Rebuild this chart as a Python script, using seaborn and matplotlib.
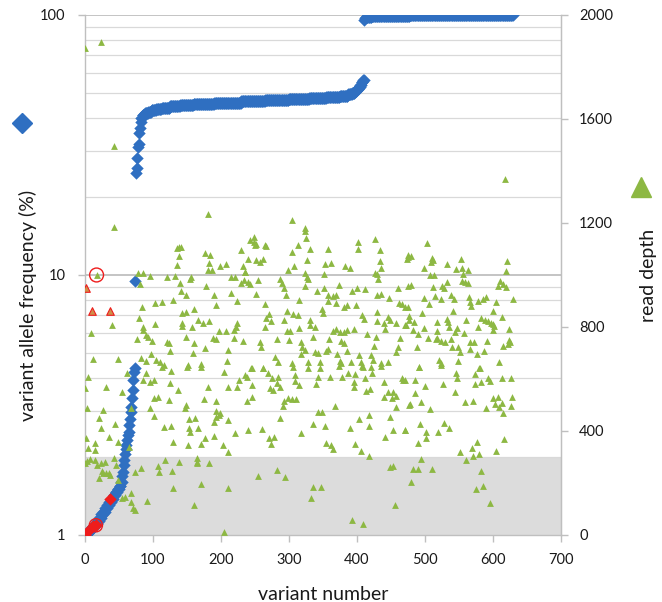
import numpy as np
import pandas as pd
import matplotlib
matplotlib.use("Agg")
import matplotlib.pyplot as plt
import seaborn as sns
from matplotlib.lines import Line2D
from matplotlib.ticker import FixedLocator, FixedFormatter, NullLocator

# sorted variant allele frequency (%), written as level + how many variants sit on it
vaf_levels = [1.0, 1.02, 1.04, 1.06, 1.08, 1.1, 1.13, 1.16, 1.2, 1.23, 1.27, 1.3, 1.34,
              1.38, 1.42, 1.46, 1.5, 1.55, 1.6, 1.68, 1.75, 1.86, 1.94, 2.05, 2.15, 2.22,
              2.32, 2.42, 2.5, 2.65, 2.8, 2.98, 3.11, 3.35, 3.6, 3.94, 4.24, 4.37, 9.5,
              24.7, 25.9, 28.1, 31.2, 31.9, 35.1, 36.7, 38.9,
              40, 41.2, 42, 42.5, 43, 43.5, 44, 44.5, 45, 45.5, 46, 46.5, 47, 47.5, 48,
              48.5, 49, 49.5, 50, 51, 52, 53, 54, 55, 56,
              95.6, 97, 98, 98.5, 99, 100]
vaf_counts = [3, 3, 3, 3, 3, 3, 3, 3, 3, 3, 3, 3, 3,
              3, 3, 3, 3, 2, 2, 1, 1, 1, 1, 1, 1, 1,
              1, 1, 1, 1, 1, 1, 1, 1, 1, 1, 1, 1, 1,
              1, 1, 1, 1, 1, 1, 1, 1,
              2, 3, 5, 5, 7, 8, 12, 15, 20, 30, 40, 35, 35, 30, 25,
              20, 12, 6, 4, 3, 3, 2, 2, 2, 2,
              1, 1, 4, 5, 56, 152]

# highlighted variants (red)
red_variant = [0, 3, 12, 16, 37]
red_vaf = [1.0, 1.03, 1.08, 1.09, 1.38]
circled_variant = [16]
circled_vaf = [1.09]

# read depth per variant (variant number, depth)
depth_points = [
    (0, 1874), (24, 1897), (42, 1496), (617, 1368),
    (181, 1235), (43, 1186), (138, 1109), (135, 1103), (141, 1109), (138, 1073), (177, 1086),
    (184, 1077), (229, 1096), (183, 1045), (136, 1038), (198, 1036), (207, 1041), (181, 1019),
    (187, 1019), (233, 1034), (236, 1013), (78, 1009), (86, 1009), (95, 997), (121, 992),
    (133, 996), (156, 994), (155, 983), (214, 994), (221, 994), (234, 981), (81, 964),
    (139, 968), (178, 959), (230, 968), (141, 938), (148, 923), (190, 923), (215, 930),
    (130, 904), (103, 891), (113, 897), (84, 878), (192, 885), (223, 901), (160, 869),
    (143, 855), (149, 857), (39, 808), (80, 833), (103, 813), (143, 817), (143, 805),
    (157, 801), (166, 827), (174, 814), (183, 823), (197, 786), (207, 786), (219, 789),
    (224, 814), (222, 801), (86, 801), (86, 788), (89, 769), (9, 776), (76, 753), (98, 748),
    (92, 763), (120, 744), (123, 737), (149, 760), (161, 740), (188, 759), (192, 754),
    (219, 757), (232, 748), (177, 720), (125, 708), (159, 699), (211, 712), (97, 695),
    (12, 677), (48, 677), (83, 680), (89, 671), (105, 673), (111, 667), (116, 654),
    (152, 654), (171, 656), (209, 671),
    (304, 1212), (323, 1179), (323, 1169), (325, 1141), (248, 1147), (243, 1135), (249, 1128),
    (252, 1118), (250, 1115), (265, 1115), (266, 1111), (313, 1115), (401, 1126), (401, 1099),
    (426, 1137), (304, 1087), (331, 1099), (357, 1100), (434, 1096), (240, 1060), (252, 1058),
    (257, 1051), (262, 1060), (326, 1058), (434, 1054), (475, 1077), (473, 1062), (308, 1036),
    (353, 1041), (362, 1048), (383, 1036), (390, 1028), (435, 1028), (299, 1018), (324, 1009),
    (326, 994), (351, 1003), (426, 1009), (429, 1005), (235, 1013), (240, 974), (243, 964),
    (254, 981), (287, 983), (289, 968), (292, 949), (328, 984), (431, 984), (324, 958),
    (374, 962), (352, 951), (400, 949), (412, 946), (461, 949), (475, 958), (341, 938),
    (392, 938), (252, 926), (296, 923), (358, 923), (364, 919), (369, 923), (357, 900),
    (430, 923), (436, 926), (315, 903), (447, 910), (369, 891), (381, 878), (385, 885),
    (399, 885), (265, 888), (462, 893), (466, 887), (475, 878), (348, 868), (350, 852),
    (297, 863), (430, 859), (306, 849), (313, 846), (270, 849), (266, 833), (274, 823),
    (407, 846), (410, 829), (264, 801), (292, 827), (331, 827), (331, 808), (338, 801),
    (429, 824), (445, 837), (449, 827), (439, 814), (458, 814), (470, 808), (314, 795),
    (297, 786), (302, 786), (365, 785), (369, 791), (375, 782), (381, 782), (386, 788),
    (395, 791), (441, 791), (414, 772), (282, 754), (300, 750), (335, 760), (359, 752),
    (377, 746), (381, 737), (428, 763), (463, 756), (257, 744), (259, 724), (318, 744),
    (319, 724), (323, 711), (318, 695), (358, 714), (385, 708), (425, 727), (461, 724),
    (458, 705), (338, 703), (342, 701), (355, 709), (370, 695), (403, 692), (421, 692),
    (423, 673), (280, 683), (284, 667), (305, 660), (328, 667), (346, 667), (375, 671),
    (377, 660), (391, 667), (406, 667), (409, 647), (436, 663), (446, 667), (245, 643),
    (262, 643),
    (503, 1122), (475, 1071), (479, 1073), (510, 1064), (512, 1058), (509, 1051), (498, 1028),
    (533, 1042), (553, 1060), (545, 1023), (555, 1028), (563, 1019), (621, 1055), (619, 1017),
    (507, 1000), (513, 1000), (556, 1004), (554, 977), (559, 972), (563, 970), (532, 974),
    (480, 962), (512, 955), (525, 959), (528, 949), (610, 977), (608, 959), (614, 964),
    (619, 954), (515, 921), (499, 913), (523, 907), (538, 923), (542, 908), (564, 915),
    (566, 897), (568, 881), (578, 900), (585, 908), (589, 914), (605, 895), (629, 906),
    (506, 888), (471, 878), (495, 855), (541, 862), (600, 863), (476, 844), (477, 827),
    (533, 831), (534, 818), (536, 801), (583, 836), (588, 827), (593, 823), (597, 817),
    (600, 810), (560, 827), (613, 840), (484, 821), (483, 788), (489, 772), (518, 821),
    (472, 808), (498, 795), (518, 786), (518, 756), (547, 795), (544, 780), (578, 799),
    (600, 788), (602, 804), (623, 792), (558, 776), (505, 756), (516, 752), (523, 747),
    (530, 743), (538, 752), (566, 743), (572, 743), (591, 747), (623, 750), (625, 741),
    (622, 733), (615, 728), (488, 722), (539, 722), (549, 724), (551, 705), (566, 715),
    (587, 709), (577, 696), (521, 673), (524, 660), (549, 669), (609, 664), (491, 646),
    (579, 644),
    (89, 622), (62, 622), (5, 609), (113, 647), (126, 631), (150, 647), (171, 647), (204, 628),
    (226, 596), (236, 615), (86, 596), (96, 590), (101, 596), (0, 564), (31, 571), (54, 551),
    (125, 583), (137, 558), (181, 571), (211, 571), (224, 571), (108, 530), (101, 526),
    (124, 519), (175, 522), (193, 515), (238, 515), (3, 490), (27, 481), (68, 487), (96, 490),
    (148, 500), (147, 490), (193, 477), (197, 462), (192, 455), (162, 449), (199, 468),
    (210, 442), (20, 449), (101, 459), (44, 427), (23, 410), (1, 374), (15, 353), (36, 378),
    (4, 333), (14, 327), (116, 417), (127, 421), (153, 446), (153, 413), (166, 413),
    (155, 397), (189, 433), (221, 391), (189, 381), (176, 374), (49, 359), (64, 340),
    (130, 359), (152, 346), (171, 350), (203, 346), (210, 321),
    (0, 276), (3, 285), (8, 292), (15, 288), (23, 276), (30, 282), (18, 269), (25, 246),
    (35, 237), (42, 295), (45, 269), (31, 240), (20, 218), (27, 237), (37, 231), (49, 211),
    (74, 244), (83, 259), (108, 267), (109, 241), (117, 288), (128, 246), (138, 279),
    (165, 282), (164, 295), (164, 276), (182, 276), (54, 143), (59, 147), (68, 163),
    (67, 128), (74, 96), (70, 103), (91, 131), (130, 179), (160, 115), (170, 195),
    (211, 182), (205, 13),
    (244, 641), (262, 641), (269, 622), (238, 609), (275, 603), (284, 609), (306, 647),
    (309, 615), (328, 641), (346, 641), (373, 650), (360, 609), (343, 609), (378, 609),
    (387, 622), (397, 618), (408, 650), (422, 622), (412, 603), (421, 647), (436, 650),
    (246, 577), (272, 564), (276, 558), (282, 583), (287, 571), (309, 592), (314, 577),
    (339, 581), (396, 590), (395, 571), (413, 554), (419, 561), (439, 590), (466, 603),
    (467, 596), (245, 529), (292, 517), (291, 497), (298, 526), (304, 522), (310, 523),
    (367, 497), (440, 532), (446, 551), (453, 549), (451, 526), (457, 536), (457, 491),
    (476, 500), (287, 449), (342, 474), (348, 474), (417, 461), (449, 455), (403, 446),
    (239, 404), (260, 406), (336, 427), (353, 419), (390, 413), (418, 419), (453, 404),
    (470, 404), (441, 378), (318, 393), (278, 378), (270, 374), (274, 349), (354, 353),
    (362, 346), (365, 331), (397, 350), (406, 323), (417, 304),
    (255, 228), (283, 250), (294, 222), (336, 183), (347, 183), (333, 141), (392, 58),
    (409, 41), (456, 115), (448, 260), (453, 265),
    (491, 647), (524, 654), (545, 622), (547, 605), (573, 619), (581, 644), (593, 603),
    (596, 592), (613, 603), (627, 605), (485, 596), (471, 596), (500, 574), (527, 581),
    (574, 581), (582, 587), (544, 551), (486, 545), (600, 526), (607, 532), (603, 503),
    (609, 494), (613, 509), (628, 532), (626, 497), (614, 468), (590, 487), (571, 515),
    (559, 513), (507, 485), (494, 510), (478, 503), (471, 404), (492, 427), (501, 397),
    (502, 374), (489, 355), (519, 395), (528, 432), (536, 410), (576, 359), (569, 336),
    (551, 318), (570, 305), (580, 311), (561, 288), (604, 323), (616, 369),
    (494, 291), (483, 254), (490, 254), (510, 254), (480, 203), (583, 247), (575, 177),
    (586, 189), (596, 122),
]

# flagged read depths (red outline) and the circled one
flag_variant = [2, 11, 37]
flag_depth = [949, 863, 863]
ring_variant = [17]
ring_depth = [1000]

BLUE = "#2f6fc1"
GREEN = "#8db843"
RED = "#ee1c1c"
GRID = "#d9d9d9"
AXIS = "#bfbfbf"

vaf = np.repeat(vaf_levels, vaf_counts)
vaf_df = pd.DataFrame({"variant": np.arange(len(vaf)), "vaf": vaf})
depth_df = pd.DataFrame(depth_points, columns=["variant", "depth"])

sns.set_style("white")
plt.rcParams["font.family"] = ["Lato", "DejaVu Sans"]

fig = plt.figure(figsize=(6.62, 6.02), dpi=100)
ax = fig.add_axes([0.1284, 0.1113, 0.719, 0.8638])

ax.set_yscale("log")
ax.set_xlim(0, 700)
ax.set_ylim(1, 100)

# low-depth / low-frequency zone
ax.axhspan(1, 2, color="#dcdcdc", zorder=0, lw=0)
for g in [2, 3, 4, 5, 6, 7, 8, 9, 20, 30, 40, 50, 60, 70, 80, 90]:
    ax.axhline(g, color=GRID, lw=0.9, zorder=0.5)
for g in [10, 100]:
    ax.axhline(g, color=AXIS, lw=1.3, zorder=0.5)

sns.scatterplot(data=vaf_df, x="variant", y="vaf", marker="D", s=40, color=BLUE,
                linewidth=0, ax=ax, zorder=3)
sns.scatterplot(x=red_variant, y=red_vaf, marker="D", s=40, color=RED,
                linewidth=0, ax=ax, zorder=4)
ax.scatter(circled_variant, circled_vaf, s=90, facecolors="none", edgecolors=RED,
           linewidths=1.0, zorder=5, clip_on=False)

ax.yaxis.set_major_locator(FixedLocator([1, 10, 100]))
ax.yaxis.set_major_formatter(FixedFormatter(["1", "10", "100"]))
ax.yaxis.set_minor_locator(NullLocator())
ax.set_xticks(range(0, 701, 100))
ax.tick_params(axis="both", which="major", direction="out", length=5, width=1,
               color=AXIS, labelsize=10.5, labelcolor="#1a1a1a", pad=8,
               left=True, bottom=True)
ax.tick_params(axis="y", pad=9)

ax.spines["top"].set_visible(False)
for side in ["left", "right", "bottom"]:
    ax.spines[side].set_color(AXIS)
    ax.spines[side].set_linewidth(1.0)

ax.set_xlabel("variant number", fontsize=14, color="#1a1a1a", labelpad=14)
ax.set_ylabel("variant allele frequency (%)", fontsize=14, color="#1a1a1a")
ax.yaxis.set_label_coords(-0.10, 0.442)

# read depth on the secondary axis
ax2 = ax.twinx()
ax2.set_ylim(0, 2000)
ax2.set_yticks(range(0, 2001, 400))
sns.scatterplot(data=depth_df, x="variant", y="depth", marker="^", s=24, color=GREEN,
                linewidth=0, ax=ax2, zorder=3)
ax2.scatter(flag_variant, flag_depth, marker="^", s=30, facecolors="#cf8f4a",
            edgecolors=RED, linewidths=0.8, zorder=4)
sns.scatterplot(x=ring_variant, y=ring_depth, marker="^", s=24, color=GREEN,
                linewidth=0, ax=ax2, zorder=4)
ax2.scatter(ring_variant, ring_depth, s=100, facecolors="none", edgecolors=RED,
            linewidths=1.0, zorder=5)
ax2.set_xlim(0, 700)
ax2.tick_params(axis="y", direction="out", length=5, width=1, color=AXIS,
                labelsize=10.5, labelcolor="#1a1a1a", pad=8, right=True)
for side in ["top", "left", "bottom"]:
    ax2.spines[side].set_visible(False)
ax2.spines["right"].set_color(AXIS)
ax2.set_ylabel("read depth", fontsize=14, color="#1a1a1a")
ax2.yaxis.set_label_coords(1.166, 0.5)

# series keys next to the axis titles
fig.add_artist(Line2D([22 / 662], [1 - 123 / 602], marker="D", markersize=10,
                      color=BLUE, linestyle="none", transform=fig.transFigure))
fig.add_artist(Line2D([641 / 662], [1 - 187 / 602], marker="^", markersize=14,
                      color=GREEN, linestyle="none", transform=fig.transFigure))

fig.savefig("out.png", dpi=100)
